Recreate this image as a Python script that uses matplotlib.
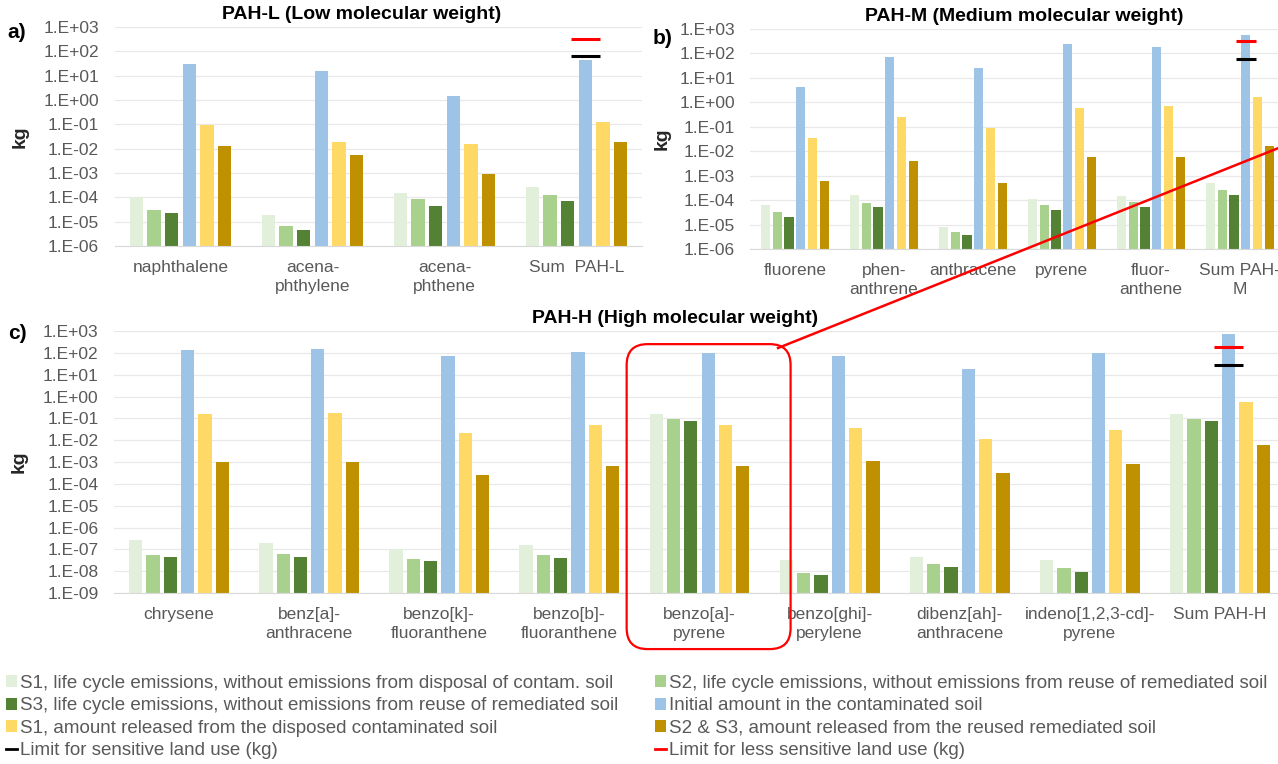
import numpy as np
import matplotlib
matplotlib.use('Agg')
import matplotlib.pyplot as plt
from matplotlib.patches import FancyBboxPatch, Patch
from matplotlib.lines import Line2D
from matplotlib.ticker import FixedLocator, FuncFormatter, NullLocator
import matplotlib.transforms as mtransforms

plt.rcParams['font.family'] = ['Liberation Sans', 'DejaVu Sans']

# Data (kg)
pahl_labels = ['naphthalene', 'acena-\nphthylene', 'acena-\nphthene', 'Sum  PAH-L']
pahl_s1 = [1.0e-4, 1.8e-5, 1.55e-4, 2.7e-4]
pahl_s2 = [3.0e-5, 5.9e-6, 8.5e-5, 1.2e-4]
pahl_s3 = [2.1e-5, 3.4e-6, 4.3e-5, 6.9e-5]
pahl_init = [30, 16, 1.4, 46]
pahl_s1_rel = [0.095, 0.018, 0.016, 0.12]
pahl_s23_rel = [0.0135, 0.0056, 9.3e-4, 0.0196]
pahl_limits = [63, 316]   # sensitive, less sensitive

pahm_labels = ['fluorene', 'phen-\nanthrene', 'anthracene', 'pyrene', 'fluor-\nanthene', 'Sum PAH-\nM']
pahm_s1 = [6.5e-5, 1.6e-4, 7.2e-6, 1.07e-4, 1.4e-4, 5.1e-4]
pahm_s2 = [3.2e-5, 7.6e-5, 4.1e-6, 6.0e-5, 8.3e-5, 2.6e-4]
pahm_s3 = [2.0e-5, 4.9e-5, 2.6e-6, 3.8e-5, 5.2e-5, 1.6e-4]
pahm_init = [4.2, 69, 25, 250, 190, 550]
pahm_s1_rel = [0.034, 0.24, 0.086, 0.56, 0.7, 1.65]
pahm_s23_rel = [6.3e-4, 0.004, 5.1e-4, 0.0056, 0.0058, 0.017]
pahm_limits = [60, 330]

pahh_labels = ['chrysene', 'benz[a]-\nanthracene', 'benzo[k]-\nfluoranthene', 'benzo[b]-\nfluoranthene',
               'benzo[a]-\npyrene', 'benzo[ghi]-\nperylene', 'dibenz[ah]-\nanthracene',
               'indeno[1,2,3-cd]-\npyrene', 'Sum PAH-H']
pahh_s1 = [2.8e-7, 1.9e-7, 1.07e-7, 1.5e-7, 0.16, 3.2e-8, 4.2e-8, 3.2e-8, 0.16]
pahh_s2 = [5.5e-8, 6.3e-8, 3.7e-8, 5.4e-8, 0.09, 6.9e-9, 2.0e-8, 1.26e-8, 0.09]
pahh_s3 = [4.2e-8, 4.6e-8, 2.7e-8, 3.9e-8, 0.078, 5.4e-9, 1.4e-8, 8.5e-9, 0.078]
pahh_init = [130, 145, 71, 112, 98, 74, 19, 98, 750]
pahh_s1_rel = [0.16, 0.17, 0.021, 0.048, 0.049, 0.036, 0.011, 0.03, 0.54]
pahh_s23_rel = [1.0e-3, 1.0e-3, 2.6e-4, 6.8e-4, 6.8e-4, 1.1e-3, 3.2e-4, 8.3e-4, 0.006]
pahh_limits = [28, 180]

series_names = ['S1, life cycle emissions, without emissions from disposal of contam. soil',
                'S2, life cycle emissions, without emissions from reuse of remediated soil',
                'S3, life cycle emissions, without emissions from reuse of remediated soil',
                'Initial amount in the contaminated soil',
                'S1, amount released from the disposed contaminated soil',
                'S2 & S3, amount released from the reused remediated soil']
limit_names = ['Limit for sensitive land use (kg)', 'Limit for less sensitive land use (kg)']
colors = ['#E2EFDA', '#A9D18E', '#548235', '#9DC3E6', '#FFD966', '#BF9000']
limit_colors = ['#000000', '#FF0000']

GRAY = '#595959'
SLOT = 0.133
WIDTH = 0.102


def draw_panel(ax, labels, series, limits, ymin, title, title_x, kg_pad):
    x = np.arange(len(labels))
    for i, (vals, c) in enumerate(zip(series, colors)):
        ax.bar(x + (i - 2.5) * SLOT, vals, width=WIDTH, color=c, bottom=ymin, zorder=2)
    # limit marks on the sum group, centred on the initial-amount bar
    xs = x[-1] + 0.5 * SLOT
    for lim, c in zip(limits, limit_colors):
        ax.plot([xs - 0.11, xs + 0.11], [lim, lim], color=c, lw=2.2, zorder=3, solid_capstyle='butt')
    ax.set_yscale('log')
    ax.set_ylim(ymin, 1e3)
    ax.set_xlim(-0.5, len(labels) - 0.5)
    decades = 10.0 ** np.arange(int(np.log10(ymin)), 4)
    ax.yaxis.set_major_locator(FixedLocator(decades))
    ax.yaxis.set_minor_locator(NullLocator())
    ax.yaxis.set_major_formatter(FuncFormatter(lambda v, p: '1.E{:+03d}'.format(int(round(np.log10(v))))))
    ax.set_xticks(x)
    ax.set_xticklabels(labels, linespacing=1.38)
    ax.tick_params(axis='y', length=0, pad=11, labelsize=12.5, labelcolor=GRAY)
    ax.tick_params(axis='x', length=0, pad=10, labelsize=12.5, labelcolor=GRAY)
    ax.grid(axis='y', color='#E8E8E8', lw=0.9, zorder=0)
    for s in ['top', 'right', 'left']:
        ax.spines[s].set_visible(False)
    ax.spines['bottom'].set_color('#D9D9D9')
    ax.set_ylabel('kg', fontsize=14, fontweight='bold', color='#262626', labelpad=kg_pad)
    ax.set_title(title, fontsize=14, fontweight='bold', pad=6, x=title_x)
    return ax


fig = plt.figure(figsize=(12.78, 7.64), dpi=100)

ax_a = fig.add_axes([0.0896, 0.678, 0.4131, 0.2866])
draw_panel(ax_a, pahl_labels,
           [pahl_s1, pahl_s2, pahl_s3, pahl_init, pahl_s1_rel, pahl_s23_rel],
           pahl_limits, 1e-6, 'PAH-L (Low molecular weight)', 0.468, 11)

ax_b = fig.add_axes([0.5872, 0.6741, 0.4178, 0.288])
draw_panel(ax_b, pahm_labels,
           [pahm_s1, pahm_s2, pahm_s3, pahm_init, pahm_s1_rel, pahm_s23_rel],
           pahm_limits, 1e-6, 'PAH-M (Medium molecular weight)', 0.513, 6)

ax_c = fig.add_axes([0.0892, 0.2238, 0.9163, 0.3429])
draw_panel(ax_c, pahh_labels,
           [pahh_s1, pahh_s2, pahh_s3, pahh_init, pahh_s1_rel, pahh_s23_rel],
           pahh_limits, 1e-9, 'PAH-H (High molecular weight)', 0.479, 11)

# panel letters
fig.text(0.006, 0.958, 'a)', fontsize=15, fontweight='bold', va='center')
fig.text(0.511, 0.950, 'b)', fontsize=15, fontweight='bold', va='center')
fig.text(0.006, 0.564, 'c)', fontsize=15, fontweight='bold', va='center')

# red highlight box around benzo[a]pyrene and the pointer line
trans = mtransforms.blended_transform_factory(ax_c.transData, ax_c.transAxes)
box = FancyBboxPatch((3.44, -0.214), 1.26, 1.164, boxstyle='round,pad=0,rounding_size=0.16',
                     transform=trans, fill=False, ec='#FF0000', lw=1.6, clip_on=False,
                     mutation_aspect=0.5, zorder=5)
ax_c.add_patch(box)
fig.add_artist(Line2D([0.6088, 1.0], [0.5445, 0.806], color='#FF0000', lw=1.8,
                      transform=fig.transFigure))

# legend, two columns
bar_handles = [Patch(facecolor=c, edgecolor='none') for c in colors]
line_handles = [Line2D([0], [0], color=c, lw=2) for c in limit_colors]
left_h = [bar_handles[0], bar_handles[2], bar_handles[4], line_handles[0]]
left_l = [series_names[0], series_names[2], series_names[4], limit_names[0]]
right_h = [bar_handles[1], bar_handles[3], bar_handles[5], line_handles[1]]
right_l = [series_names[1], series_names[3], series_names[5], limit_names[1]]
for h, l, xpos in [(left_h, left_l, 0.0), (right_h, right_l, 0.508)]:
    fig.legend(h, l, loc='upper left', bbox_to_anchor=(xpos, 0.124), frameon=False,
               fontsize=13.5, labelcolor=GRAY, handlelength=0.6, handleheight=0.6,
               handletextpad=0.15, labelspacing=0.29, borderaxespad=0, borderpad=0.3)

fig.savefig('out.png', dpi=100)
